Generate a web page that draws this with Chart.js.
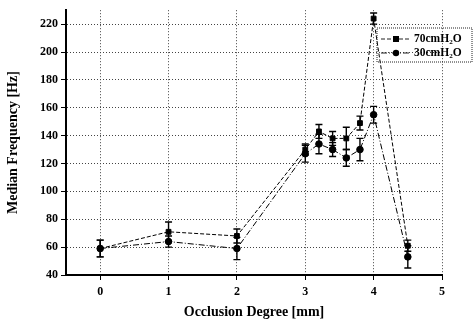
<!DOCTYPE html>
<html>
<head>
<meta charset="utf-8">
<script src="https://cdn.jsdelivr.net/npm/chart.js@4/dist/chart.umd.min.js"></script>
<style>
  html, body { margin: 0; padding: 0; background: #fff; }
  #wrap { width: 474px; height: 325px; }
</style>
</head>
<body>
<div id="wrap"><canvas id="chart" width="474" height="325"></canvas></div>
<script>
// data
const degrees = [0, 1, 2, 3, 3.2, 3.4, 3.6, 3.8, 4, 4.5];
const freq70 = [59, 71, 68, 130, 143, 138, 138, 149, 224, 61];
const err70 = [6, 7, 5, 4, 5, 5, 8, 5, 4, 4];
const freq30 = [59, 64, 59, 127, 134, 130, 124, 130, 155, 53];
const err30 = [6, 4, 8, 6, 7, 5, 6, 8, 6, 8];
const xTicks = [0, 1, 2, 3, 4, 5];
const yTicks = [40, 60, 80, 100, 120, 140, 160, 180, 200, 220];
const seriesNames = ["70cmH", "30cmH"];

const SERIF = "'Liberation Serif', 'DejaVu Serif', serif";

const toPoints = (ys) => degrees.map((d, i) => ({ x: d, y: ys[i] }));

// vertical error bars with caps
const errorBars = {
  id: "errorBars",
  afterDatasetsDraw(chart) {
    const { ctx, scales } = chart;
    const errs = [err70, err30];
    ctx.save();
    ctx.strokeStyle = "#000";
    ctx.lineWidth = 1.4;
    chart.data.datasets.forEach((ds, di) => {
      ds.data.forEach((p, i) => {
        const x = scales.x.getPixelForValue(p.x);
        const yTop = scales.y.getPixelForValue(p.y + errs[di][i]);
        const yBot = scales.y.getPixelForValue(p.y - errs[di][i]);
        ctx.beginPath();
        ctx.moveTo(x, yTop); ctx.lineTo(x, yBot);
        ctx.moveTo(x - 3.5, yTop); ctx.lineTo(x + 3.5, yTop);
        ctx.moveTo(x - 3.5, yBot); ctx.lineTo(x + 3.5, yBot);
        ctx.stroke();
      });
    });
    ctx.restore();
  }
};

// boxed legend with line + marker samples
const boxLegend = {
  id: "boxLegend",
  afterDraw(chart) {
    const { ctx } = chart;
    const bx = 377, by = 28, bw = 95, bh = 34;
    ctx.save();
    ctx.strokeStyle = "#222";
    ctx.lineWidth = 1;
    ctx.setLineDash([1, 1]);
    ctx.strokeRect(bx, by, bw, bh);
    chart.data.datasets.forEach((ds, i) => {
      const y = by + 11 + i * 14;
      ctx.setLineDash(ds.borderDash);
      ctx.beginPath();
      ctx.moveTo(bx + 4, y); ctx.lineTo(bx + 33, y);
      ctx.stroke();
      ctx.setLineDash([]);
      ctx.fillStyle = "#000";
      if (ds.pointStyle === "rect") {
        ctx.fillRect(bx + 16, y - 3, 6, 6);
      } else {
        ctx.beginPath(); ctx.arc(bx + 19, y, 3.2, 0, Math.PI * 2); ctx.fill();
      }
      ctx.textBaseline = "middle";
      ctx.font = "bold 11.5px " + SERIF;
      let tx = bx + 37;
      const base = seriesNames[i];
      ctx.fillText(base, tx, y);
      tx += ctx.measureText(base).width;
      ctx.font = "bold 7px " + SERIF;
      ctx.fillText("2", tx, y + 3);
      tx += ctx.measureText("2").width;
      ctx.font = "bold 11.5px " + SERIF;
      ctx.fillText("O", tx, y);
    });
    ctx.restore();
  }
};

new Chart(document.getElementById("chart"), {
  type: "line",
  data: {
    datasets: [
      {
        label: "70cmH2O",
        data: toPoints(freq70),
        borderColor: "#000",
        borderWidth: 1,
        borderDash: [4, 2],
        pointStyle: "rect",
        pointRadius: 3.4,
        pointBackgroundColor: "#000",
        pointBorderColor: "#000",
        tension: 0
      },
      {
        label: "30cmH2O",
        data: toPoints(freq30),
        borderColor: "#000",
        borderWidth: 1,
        borderDash: [6, 2, 1, 2],
        pointStyle: "circle",
        pointRadius: 3.3,
        pointBackgroundColor: "#000",
        pointBorderColor: "#000",
        tension: 0
      }
    ]
  },
  options: {
    responsive: false,
    animation: false,
    layout: { padding: { left: 0, top: 10, right: 32, bottom: 0 } },
    plugins: { legend: { display: false }, tooltip: { enabled: false } },
    scales: {
      x: {
        type: "linear",
        min: -0.5,
        max: 5,
        afterBuildTicks: (s) => { s.ticks = xTicks.map((v) => ({ value: v })); },
        afterFit: (s) => { s.height = 50; },
        grid: { color: "#444", lineWidth: 1, tickLength: 5, tickColor: "#000", tickBorderDash: [1, 0] },
        border: { color: "#000", width: 2, dash: [1, 2] },
        ticks: { color: "#000", padding: 5, font: { family: SERIF, size: 12, weight: "bold" } },
        title: { display: true, text: "Occlusion Degree [mm]", color: "#000", padding: 4, font: { family: SERIF, size: 14, weight: "bold" } }
      },
      y: {
        min: 40,
        max: 230,
        afterBuildTicks: (s) => { s.ticks = yTicks.map((v) => ({ value: v })); },
        afterFit: (s) => { s.width = 66; },
        grid: { color: "#444", lineWidth: 1, tickLength: 5, tickColor: "#000", tickBorderDash: [1, 0] },
        border: { color: "#000", width: 2, dash: [1, 2] },
        ticks: { color: "#000", padding: 3, font: { family: SERIF, size: 12, weight: "bold" } },
        title: { display: true, text: "Median Frequency [Hz]", color: "#000", padding: 5, font: { family: SERIF, size: 14, weight: "bold" } }
      }
    }
  },
  plugins: [errorBars, boxLegend]
});
</script>
</body>
</html>
